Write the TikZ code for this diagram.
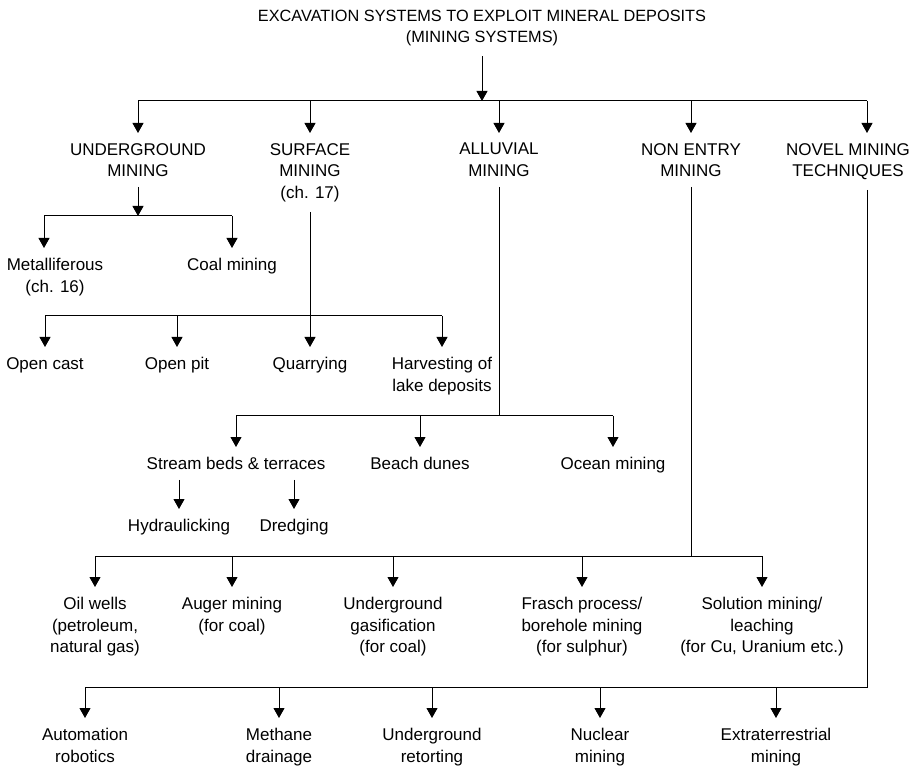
\documentclass[tikz,border=0pt]{standalone}
\usepackage{fontspec}
\setmainfont{Liberation Sans}
\usetikzlibrary{arrows.meta}

\begin{document}
\begin{tikzpicture}[
  x=1pt, y=-1pt,
  lbl/.style={font=\fontsize{17}{21.5}\selectfont, align=center, anchor=north, inner xsep=2pt, inner ysep=10pt},
  arr/.style={-{Triangle[width=11pt,length=10pt]}, line width=1pt},
  ln/.style={line width=1pt}
]
\useasboundingbox (0,0) rectangle (919,767);

\node[lbl, anchor=center, font=\fontsize{16.3}{21.5}\selectfont] (title) at (482,28) {EXCAVATION SYSTEMS TO EXPLOIT MINERAL DEPOSITS\\(MINING SYSTEMS)};

\node[lbl] (ug) at (138,133) {UNDERGROUND\\MINING};
\node[lbl] (surf) at (310,133) {SURFACE\\MINING\\(ch. 17)};
\node[lbl] (alluv) at (499,133) {ALLUVIAL\\MINING};
\node[lbl] (nonentry) at (691,133) {NON ENTRY\\MINING};
\node[lbl] (novel) at (848,133) {NOVEL MINING\\TECHNIQUES};

\node[lbl] (metal) at (55,248) {Metalliferous\\(ch. 16)};
\node[lbl] (coal) at (232,248) {Coal mining};

\node[lbl] (opencast) at (45,347) {Open cast};
\node[lbl] (openpit) at (177,347) {Open pit};
\node[lbl] (quarry) at (310,347) {Quarrying};
\node[lbl] (harvest) at (442,347) {Harvesting of\\lake deposits};

\node[lbl] (stream) at (236,447) {Stream beds \& terraces};
\node[lbl] (beach) at (420,447) {Beach dunes};
\node[lbl] (ocean) at (613,447) {Ocean mining};
\node[lbl] (hydr) at (179,509) {Hydraulicking};
\node[lbl] (dredge) at (294,509) {Dredging};

\node[lbl] (oil) at (95,587) {Oil wells\\(petroleum,\\natural gas)};
\node[lbl] (auger) at (232,587) {Auger mining\\(for coal)};
\node[lbl] (gasif) at (393,587) {Underground\\gasification\\(for coal)};
\node[lbl] (frasch) at (582,587) {Frasch process/\\borehole mining\\(for sulphur)};
\node[lbl] (solution) at (762,587) {Solution mining/\\leaching\\(for Cu, Uranium etc.)};

\node[lbl] (autom) at (85,718) {Automation\\robotics};
\node[lbl] (methane) at (279,718) {Methane\\drainage};
\node[lbl] (retort) at (432,718) {Underground\\retorting};
\node[lbl] (nuclear) at (600,718) {Nuclear\\mining};
\node[lbl] (extra) at (776,718) {Extraterrestrial\\mining};

\coordinate (top) at (482,101);
\coordinate (topr) at (867,101);
\draw[arr] (title) -- (top);
\draw[ln] (ug |- top) -- (topr);
\draw[arr] (ug |- top) -- (ug);
\draw[arr] (surf |- top) -- (surf);
\draw[arr] (alluv |- top) -- (alluv);
\draw[arr] (nonentry |- top) -- (nonentry);
\draw[arr] (topr) -- (topr |- novel.north);

\coordinate (ugbar) at (138,216);
\coordinate (ugl) at (44,216);
\draw[arr] (ug) -- (ugbar);
\draw[ln] (ugl) -- (coal |- ugbar);
\draw[arr] (ugl) -- (ugl |- metal.north);
\draw[arr] (coal |- ugbar) -- (coal);

\coordinate (surfbar) at (310,316);
\draw[ln] (opencast |- surfbar) -- (harvest |- surfbar);
\draw[arr] (surf) -- (quarry);
\draw[arr] (opencast |- surfbar) -- (opencast);
\draw[arr] (openpit |- surfbar) -- (openpit);
\draw[arr] (harvest |- surfbar) -- (harvest);

\coordinate (alluvbar) at (499,416);
\draw[ln] (alluv) -- (alluvbar);
\draw[ln] (stream |- alluvbar) -- (ocean |- alluvbar);
\draw[arr] (stream |- alluvbar) -- (stream);
\draw[arr] (beach |- alluvbar) -- (beach);
\draw[arr] (ocean |- alluvbar) -- (ocean);
\draw[arr] (stream.south -| hydr) -- (hydr);
\draw[arr] (stream.south -| dredge) -- (dredge);

\coordinate (nebar) at (691,556);
\draw[ln] (nonentry) -- (nebar);
\draw[ln] (oil |- nebar) -- (solution |- nebar);
\draw[arr] (oil |- nebar) -- (oil);
\draw[arr] (auger |- nebar) -- (auger);
\draw[arr] (gasif |- nebar) -- (gasif);
\draw[arr] (frasch |- nebar) -- (frasch);
\draw[arr] (solution |- nebar) -- (solution);

\coordinate (novbar) at (867,687);
\draw[ln] (novel.south -| novbar) -- (novbar) -- (autom |- novbar);
\draw[arr] (autom |- novbar) -- (autom);
\draw[arr] (methane |- novbar) -- (methane);
\draw[arr] (retort |- novbar) -- (retort);
\draw[arr] (nuclear |- novbar) -- (nuclear);
\draw[arr] (extra |- novbar) -- (extra);
\end{tikzpicture}
\end{document}
